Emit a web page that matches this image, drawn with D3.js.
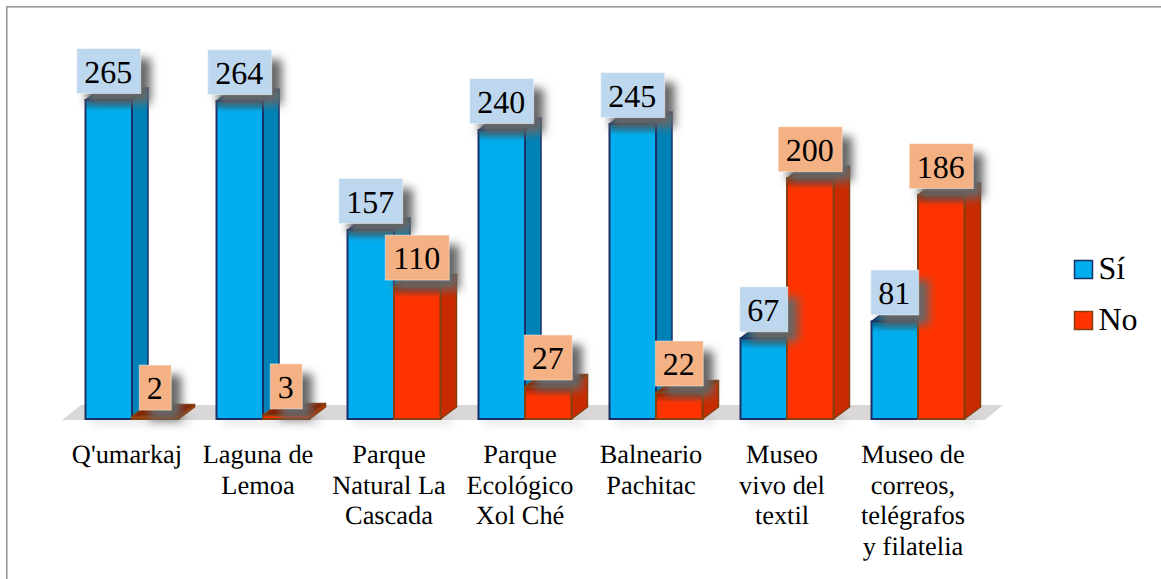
<!DOCTYPE html>
<html>
<head>
<meta charset="utf-8">
<script src="https://cdn.jsdelivr.net/npm/d3@7"></script>
<style>
	html, body { margin: 0; padding: 0; background: #fff; }
	svg { display: block; }
	text { font-family: "Liberation Serif", serif; fill: #000; text-rendering: geometricPrecision; }
</style>
</head>
<body>
<div id="chart"></div>
<script>
// Values
var categories = ["Q'umarkaj", "Laguna de Lemoa", "Parque Natural La Cascada", "Parque Ecológico Xol Ché", "Balneario Pachitac", "Museo vivo del textil", "Museo de correos, telégrafos y filatelia"];
var categoryLines = [
	["Q'umarkaj"],
	["Laguna de", "Lemoa"],
	["Parque", "Natural La", "Cascada"],
	["Parque", "Ecológico", "Xol Ché"],
	["Balneario", "Pachitac"],
	["Museo", "vivo del", "textil"],
	["Museo de", "correos,", "telégrafos", "y filatelia"]
];
var seriesNames = ["Sí", "No"];
var si = [265, 264, 157, 240, 245, 67, 81];
var no = [2, 3, 110, 27, 22, 200, 186];

var w = 1161, h = 579;
var depthX = 16, depthY = 12;
var base = 419;

var svg = d3.select('#chart').append('svg')
	.attr('width', w)
	.attr('height', h);

var defs = svg.append('defs');

// soft drop shadow behind the value labels
var blur = defs.append('filter').attr('id', 'labelShadow')
	.attr('x', '-50%').attr('y', '-50%').attr('width', '200%').attr('height', '200%');
blur.append('feGaussianBlur').attr('stdDeviation', 5);

var floorBlur = defs.append('filter').attr('id', 'floorShadow')
	.attr('x', '-30%').attr('y', '-100%').attr('width', '160%').attr('height', '300%');
floorBlur.append('feGaussianBlur').attr('stdDeviation', 4);

// dark inner shade at the top of each bar
var shade = defs.append('linearGradient').attr('id', 'topShade')
	.attr('x1', 0).attr('y1', 0).attr('x2', 0).attr('y2', 1);
shade.append('stop').attr('offset', 0).attr('stop-color', '#000').attr('stop-opacity', 0.4);
shade.append('stop').attr('offset', 1).attr('stop-color', '#000').attr('stop-opacity', 0);

// Outer frame
svg.append('rect')
	.attr('x', 6.8).attr('y', 6.8)
	.attr('width', w).attr('height', h)
	.attr('fill', '#fff')
	.attr('stroke', '#999')
	.attr('stroke-width', 1.6);

var x = d3.scaleBand()
	.domain(d3.range(categories.length))
	.range([66, 983]);

var y = d3.scaleLinear()
	.domain([0, 265])
	.range([base, 100]);

var barW = 46.5;

var palette = {
	"Sí": { front: '#00aeef', side: '#0082b6', top: '#04557c', stroke: '#1b2f66', label: '#bdd7ee' },
	"No": { front: '#ff3300', side: '#c92a00', top: '#862000', stroke: '#85400f', label: '#f4b183' }
};

function barX(i, s) {
	return x(i) + x.bandwidth() / 2 - barW + s * barW + 0.5;
}

// Floor
var floor = [[62, 420], [81, 405], [1003, 405], [985, 420]];
svg.append('path')
	.attr('d', d3.line()(floor) + 'Z')
	.attr('fill', '#d9d7d7');

var bars = [];
categories.forEach(function(c, i) {
	bars.push({ i: i, s: 0, name: seriesNames[0], value: si[i] });
	bars.push({ i: i, s: 1, name: seriesNames[1], value: no[i] });
});

// faint shadow the bars cast below the floor
svg.append('g').selectAll('rect')
	.data(categories)
	.enter().append('rect')
	.attr('x', function(d, i) { return barX(i, 0) + 6; })
	.attr('y', base - 1)
	.attr('width', barW * 2 + 6)
	.attr('height', 7)
	.attr('fill', '#000')
	.attr('opacity', 0.1)
	.attr('filter', 'url(#floorShadow)');

var gBars = svg.append('g').attr('class', 'bars');
var gBar = gBars.selectAll('g')
	.data(bars)
	.enter().append('g')
	.attr('class', 'bar');

// side face
gBar.append('path')
	.attr('d', function(d) {
		var r = barX(d.i, d.s) + barW, t = y(d.value);
		return 'M' + r + ',' + base + 'L' + (r + depthX) + ',' + (base - depthY) + 'L' + (r + depthX) + ',' + (t - depthY) + 'L' + r + ',' + t + 'Z';
	})
	.attr('fill', function(d) { return palette[d.name].side; })
	.attr('stroke', function(d) { return palette[d.name].stroke; })
	.attr('stroke-width', 1.5)
	.attr('stroke-linejoin', 'round');

// top face
gBar.append('path')
	.attr('d', function(d) {
		var l = barX(d.i, d.s), r = l + barW, t = y(d.value);
		return 'M' + l + ',' + t + 'L' + (l + depthX) + ',' + (t - depthY) + 'L' + (r + depthX) + ',' + (t - depthY) + 'L' + r + ',' + t + 'Z';
	})
	.attr('fill', function(d) { return palette[d.name].top; })
	.attr('stroke', function(d) { return palette[d.name].stroke; })
	.attr('stroke-width', 1.5)
	.attr('stroke-linejoin', 'round');

// front face
gBar.append('rect')
	.attr('x', function(d) { return barX(d.i, d.s); })
	.attr('y', function(d) { return y(d.value); })
	.attr('width', barW)
	.attr('height', function(d) { return base - y(d.value); })
	.attr('fill', function(d) { return palette[d.name].front; })
	.attr('stroke', function(d) { return palette[d.name].stroke; })
	.attr('stroke-width', 2);

// shade on the upper part of the front face, tall bars only
gBar.filter(function(d) { return d.value > 10; }).append('rect')
	.attr('x', function(d) { return barX(d.i, d.s) + 1; })
	.attr('y', function(d) { return y(d.value) + 1; })
	.attr('width', barW - 2)
	.attr('height', 9)
	.attr('fill', 'url(#topShade)');

// Value labels
var labelW = { 1: 32, 2: 48, 3: 64 };
var gLabels = svg.append('g').attr('class', 'labels');
var label = gLabels.selectAll('g')
	.data(bars)
	.enter().append('g')
	.attr('transform', function(d) {
		return 'translate(' + (barX(d.i, d.s) + barW / 2) + ',' + (y(d.value) - 29.5) + ')';
	});

label.append('rect')
	.attr('x', function(d) { return -labelW[String(d.value).length] / 2 + 10; })
	.attr('y', -22 + 10)
	.attr('width', function(d) { return labelW[String(d.value).length]; })
	.attr('height', 45)
	.attr('fill', '#666')
	.attr('filter', 'url(#labelShadow)');

label.append('rect')
	.attr('x', function(d) { return -labelW[String(d.value).length] / 2; })
	.attr('y', -22)
	.attr('width', function(d) { return labelW[String(d.value).length]; })
	.attr('height', 45)
	.attr('fill', function(d) { return palette[d.name].label; })
	.attr('stroke', '#fff')
	.attr('stroke-opacity', 0.45)
	.attr('stroke-width', 1);

label.append('text')
	.attr('text-anchor', 'middle')
	.attr('x', -0.5)
	.attr('y', 12)
	.style('font-size', '32px')
	.text(function(d) { return d.value; });

// Category labels
var gCats = svg.append('g').attr('class', 'categories');
var cat = gCats.selectAll('text')
	.data(categoryLines)
	.enter().append('text')
	.attr('text-anchor', 'middle')
	.attr('x', function(d, i) { return x(i) + x.bandwidth() / 2 - 4.5; })
	.attr('y', 463)
	.style('font-size', '26.4px');

cat.selectAll('tspan')
	.data(function(d) { return d; })
	.enter().append('tspan')
	.attr('x', function() { return d3.select(this.parentNode).attr('x'); })
	.attr('y', function(d, i) { return 463 + i * 30.5; })
	.text(function(d) { return d; });

// Legend
var legend = svg.append('g').attr('class', 'legend')
	.selectAll('g')
	.data(seriesNames)
	.enter().append('g')
	.attr('transform', function(d, i) { return 'translate(1074.5,' + (260.5 + i * 51) + ')'; });

legend.append('rect')
	.attr('width', 18).attr('height', 18)
	.attr('fill', function(d) { return palette[d].front; })
	.attr('stroke', function(d) { return palette[d].stroke; })
	.attr('stroke-width', 1.5);

legend.append('text')
	.attr('x', 24)
	.attr('y', 18)
	.style('font-size', '32px')
	.text(function(d) { return d; });
</script>
</body>
</html>
